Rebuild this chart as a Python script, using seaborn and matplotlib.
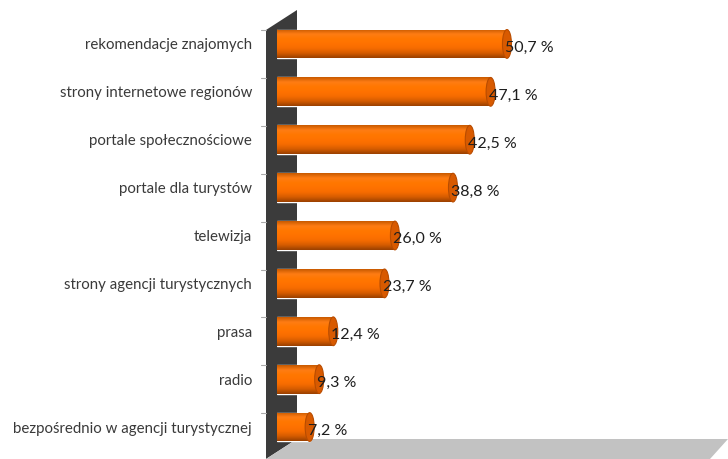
import numpy as np
import pandas as pd
import matplotlib
matplotlib.use("Agg")
import matplotlib.pyplot as plt
import seaborn as sns
from matplotlib.patches import Polygon, Ellipse
from matplotlib.colors import LinearSegmentedColormap

categories = [
    "rekomendacje znajomych",
    "strony internetowe regionów",
    "portale społecznościowe",
    "portale dla turystów",
    "telewizja",
    "strony agencji turystycznych",
    "prasa",
    "radio",
    "bezpośrednio w agencji turystycznej",
]
values = [50.7, 47.1, 42.5, 38.8, 26.0, 23.7, 12.4, 9.3, 7.2]

sns.set_theme(style="white")
plt.rcParams["font.family"] = ["Lato", "DejaVu Sans"]

W, H = 728, 459
fig = plt.figure(figsize=(W / 100, H / 100), dpi=100)
fig.patch.set_facecolor("white")


def fx(px):
    return px / W


def fy(py):
    return 1 - py / H


# 3D back wall and floor
wall = Polygon([(fx(266), fy(30)), (fx(297), fy(10)), (fx(297), fy(439)), (fx(266), fy(459))],
               closed=True, transform=fig.transFigure, facecolor="#3b3b3b", edgecolor="none", zorder=0)
floor = Polygon([(fx(266), fy(459)), (fx(297), fy(439)), (fx(728), fy(439)), (fx(710), fy(459))],
                closed=True, transform=fig.transFigure, facecolor="#c2c2c2", edgecolor="none", zorder=0)
fig.patches.extend([wall, floor])

ax = fig.add_axes([fx(277), 8 / H, 449 / W, 431 / H])
ax.set_zorder(2)
ax.patch.set_alpha(0)

df = pd.DataFrame({"kategoria": categories, "udzial": values})
sns.barplot(data=df, x="udzial", y="kategoria", orient="h", color="#ff7300",
            width=0.6, saturation=1, ax=ax, zorder=3)

# cylinder shading on each bar
cmap = LinearSegmentedColormap.from_list(
    "cyl", ["#c85a00", "#ff7d14", "#ff7700", "#ff7200", "#f66c00", "#d65c00", "#9a4000"])
grad = np.linspace(0, 1, 64).reshape(-1, 1)
px_per_unit = 449 / 99
cap_w = 9 / px_per_unit
for patch, v in zip(ax.patches, values):
    x0, y0 = patch.get_x(), patch.get_y()
    w, h = patch.get_width(), patch.get_height()
    im = ax.imshow(grad, cmap=cmap, aspect="auto", extent=[x0, x0 + w, y0 + h, y0],
                   zorder=4, interpolation="bicubic")
    im.set_clip_path(patch)
    cap = Ellipse((x0 + w, y0 + h / 2), cap_w, h, facecolor="#d85a00",
                  edgecolor="#b84c00", linewidth=0.8, zorder=5)
    ax.add_patch(cap)
    left = Ellipse((x0, y0 + h / 2), cap_w, h, facecolor="#ee6a00",
                   edgecolor="none", zorder=2.9)
    ax.add_patch(left)
    ax.text(x0 + w - 0.4, y0 + h / 2 + 0.08, f"{v:.1f}".replace(".", ",") + " %",
            ha="left", va="center", fontsize=11.5, color="#1e1e1e", zorder=6)

ax.set_xlim(0, 99)
ax.set_ylim(8.5, -0.5)
ax.set_xlabel("")
ax.set_ylabel("")
ax.set_xticks([])
ax.tick_params(axis="y", length=0, pad=18, labelsize=10.8, labelcolor="#3a3a3a")
for s in ax.spines.values():
    s.set_visible(False)

# small tick marks along the wall edge
for k in range(10):
    y = 30 + 47.9 * k
    if y < 455:
        fig.add_artist(plt.Line2D([fx(261), fx(266)], [fy(y), fy(y)],
                                  transform=fig.transFigure, color="#aaaaaa", linewidth=0.8))

fig.savefig("out.png", dpi=100)
